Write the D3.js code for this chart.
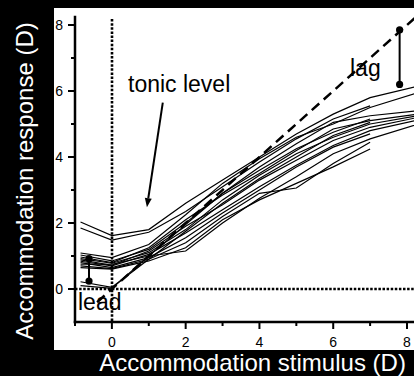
<!DOCTYPE html>
<html>
<head>
<meta charset="utf-8">
<script src="https://cdn.jsdelivr.net/npm/d3@7"></script>
<style>
  html, body { margin: 0; padding: 0; background: #000; }
  svg { display: block; }
  text { font-family: "Liberation Sans", Arial, sans-serif; }
</style>
</head>
<body>
<svg id="chart" width="414" height="376"></svg>
<script>
// Stimulus levels (D) shared by every subject
const stimulus = [-0.85, 0, 1, 2, 3, 4, 5, 6, 7, 8.3];

// Accommodation response (D) of each subject at those stimulus levels (null = not measured)
const subjectResponses = [
  [2.03, 1.62, 1.80, 2.60, 3.30, 4.00, 4.70, 5.30, 5.80, 6.15],
  [1.85, 1.48, 1.72, 2.35, 3.10, 3.85, 4.55, 5.15, 5.55, null],
  [1.09, 0.95, 1.35, 2.25, 3.20, 3.95, 4.60, 5.00, 5.50, 5.95],
  [1.03, 0.85, 1.20, 2.00, 2.90, 3.70, 4.40, 5.05, 5.25, 5.40],
  [0.97, 0.80, 1.25, 2.10, 2.85, 3.50, 4.20, 4.85, 5.10, 5.30],
  [0.92, 0.78, 1.10, 1.80, 2.70, 3.45, 4.10, 4.60, 5.00, 5.25],
  [0.88, 0.72, 1.15, 1.90, 2.55, 3.30, 3.90, 4.50, 4.90, 5.20],
  [0.84, 0.70, 1.05, 1.70, 2.40, 3.10, 3.75, 4.35, 4.80, 5.12],
  [0.80, 0.65, 0.95, 1.55, 2.30, 3.00, 3.70, 4.30, 4.70, null],
  [0.75, 0.75, 1.00, 1.15, 2.00, 2.75, 3.40, 4.10, 4.55, 5.00],
  [0.70, 0.62, 0.90, 1.40, 2.20, 2.90, 3.06, 3.80, 4.45, null],
  [0.65, 0.60, 0.85, 1.25, 2.10, 2.70, 3.20, 3.70, 4.24, null],
  [0.10, 0.02, 1.00, 1.95, 2.90, 3.60, 4.25, 4.75, 5.15, null],
  [0.22, 0.05, 0.90, 1.75, 2.60, 3.35, 4.00, 4.65, 5.05, null]
];

// Tick values
const xMajorTicks = [0, 2, 4, 6, 8];
const xMinorTicks = [-1, 1, 3, 5, 7];
const yMajorTicks = [0, 2, 4, 6, 8];
const yMinorTicks = [1, 3, 5, 7];

// Annotation values: lead and lag bars (stimulus, response from, response to)
const leadBar = { stim: -0.62, from: 0.92, to: 0.24 };
const lagBar = { stim: 7.8, from: 7.85, to: 6.2 };
const tonicArrow = { x1: 1.38, y1: 5.65, x2: 0.95, y2: 2.48 };

const svg = d3.select("#chart");

// white plotting panel on black page
svg.append("rect").attr("x", 54).attr("y", 8).attr("width", 360).attr("height", 342).attr("fill", "#fff");

const x = d3.scaleLinear().domain([-1, 8]).range([75, 407]);
const y = d3.scaleLinear().domain([-1, 8]).range([322, 25]);
const xMax = 8.2, yMax = 8.24;

svg.append("defs").append("clipPath").attr("id", "plotClip")
  .append("rect").attr("x", 75).attr("y", 8).attr("width", 339).attr("height", 314);

const plot = svg.append("g").attr("clip-path", "url(#plotClip)");

// reference lines: stimulus 0 and response 0
const x0 = Math.round(x(0)), y0 = Math.round(y(0));
plot.append("line")
  .attr("x1", x0).attr("x2", x0).attr("y1", y(yMax) + 2).attr("y2", y(-1))
  .attr("stroke", "#000").attr("stroke-width", 2.6).attr("stroke-dasharray", "2.5,1.6");
plot.append("line")
  .attr("x1", x(-1)).attr("x2", x(xMax)).attr("y1", y0).attr("y2", y0)
  .attr("stroke", "#000").attr("stroke-width", 2.6).attr("stroke-dasharray", "2.5,1.6");

// 1:1 line (response equals stimulus)
plot.append("line")
  .attr("x1", x(-0.4)).attr("y1", y(-0.4)).attr("x2", x(8.3)).attr("y2", y(8.3))
  .attr("stroke", "#000").attr("stroke-width", 2.5).attr("stroke-dasharray", "10,6");

// subject response curves
const line = d3.line()
  .defined(d => d[1] !== null)
  .x(d => x(d[0])).y(d => y(d[1]));
plot.selectAll("path.subject")
  .data(subjectResponses)
  .join("path")
  .attr("class", "subject")
  .attr("d", r => line(r.map((v, i) => [stimulus[i], v])))
  .attr("fill", "none").attr("stroke", "#000").attr("stroke-width", 1.2);

// lead and lag bars with end dots
[leadBar, lagBar].forEach(b => {
  plot.append("line")
    .attr("x1", x(b.stim)).attr("x2", x(b.stim)).attr("y1", y(b.from)).attr("y2", y(b.to))
    .attr("stroke", "#000").attr("stroke-width", 2);
  [b.from, b.to].forEach(v => plot.append("circle")
    .attr("cx", x(b.stim)).attr("cy", y(v)).attr("r", 3.6).attr("fill", "#000"));
});

// axes
const axes = svg.append("g").attr("stroke", "#000").attr("stroke-linecap", "square");
axes.append("line").attr("x1", x(-1)).attr("x2", x(-1)).attr("y1", y(yMax)).attr("y2", y(-1)).attr("stroke-width", 2.5);
axes.append("line").attr("x1", x(-1)).attr("x2", 414).attr("y1", y(-1)).attr("y2", y(-1)).attr("stroke-width", 2.5);

axes.selectAll("line.xmaj").data(xMajorTicks).join("line")
  .attr("x1", d => x(d)).attr("x2", d => x(d)).attr("y1", y(-1)).attr("y2", y(-1) + 7).attr("stroke-width", 2).attr("stroke-linecap", "butt");
axes.selectAll("line.xmin").data(xMinorTicks).join("line")
  .attr("x1", d => x(d)).attr("x2", d => x(d)).attr("y1", y(-1)).attr("y2", y(-1) + 4).attr("stroke-width", 2).attr("stroke-linecap", "butt");
axes.selectAll("line.ymaj").data(yMajorTicks).join("line")
  .attr("x1", x(-1) - 7).attr("x2", x(-1)).attr("y1", d => y(d)).attr("y2", d => y(d)).attr("stroke-width", 2).attr("stroke-linecap", "butt");
axes.selectAll("line.ymin").data(yMinorTicks).join("line")
  .attr("x1", x(-1) - 4).attr("x2", x(-1)).attr("y1", d => y(d)).attr("y2", d => y(d)).attr("stroke-width", 2).attr("stroke-linecap", "butt");

svg.selectAll("text.xtick").data(xMajorTicks).join("text")
  .attr("x", d => x(d)).attr("y", 347).attr("text-anchor", "middle")
  .attr("font-size", 14).attr("fill", "#000").text(d => d);
svg.selectAll("text.ytick").data(yMajorTicks).join("text")
  .attr("x", 63).attr("y", d => y(d) + 5).attr("text-anchor", "end")
  .attr("font-size", 14).attr("fill", "#000").text(d => d);

// axis titles
svg.append("text").attr("x", 252.5).attr("y", 371).attr("text-anchor", "middle")
  .attr("font-size", 24).attr("fill", "#fff").text("Accommodation stimulus (D)");
svg.append("text").attr("transform", "translate(33,181) rotate(-90)").attr("text-anchor", "middle")
  .attr("font-size", 24).attr("fill", "#fff").text("Accommodation response (D)");

// annotations
svg.append("text").attr("x", 128).attr("y", 92).attr("font-size", 23).attr("fill", "#000").text("tonic level");
svg.append("text").attr("x", 78).attr("y", 310).attr("font-size", 23).attr("fill", "#000").text("lead");
svg.append("text").attr("x", 350).attr("y", 76).attr("font-size", 23).attr("fill", "#000").text("lag");

// arrow pointing at the tonic level
const ax1 = x(tonicArrow.x1), ay1 = y(tonicArrow.y1), ax2 = x(tonicArrow.x2), ay2 = y(tonicArrow.y2);
const ang = Math.atan2(ay2 - ay1, ax2 - ax1);
const headLen = 9, headHalf = 3.5;
const bx = ax2 - headLen * Math.cos(ang), by = ay2 - headLen * Math.sin(ang);
svg.append("line").attr("x1", ax1).attr("y1", ay1).attr("x2", bx).attr("y2", by)
  .attr("stroke", "#000").attr("stroke-width", 2);
svg.append("path")
  .attr("d", `M${ax2},${ay2}L${bx - headHalf * Math.sin(ang)},${by + headHalf * Math.cos(ang)}L${bx + headHalf * Math.sin(ang)},${by - headHalf * Math.cos(ang)}Z`)
  .attr("fill", "#000");
</script>
</body>
</html>
